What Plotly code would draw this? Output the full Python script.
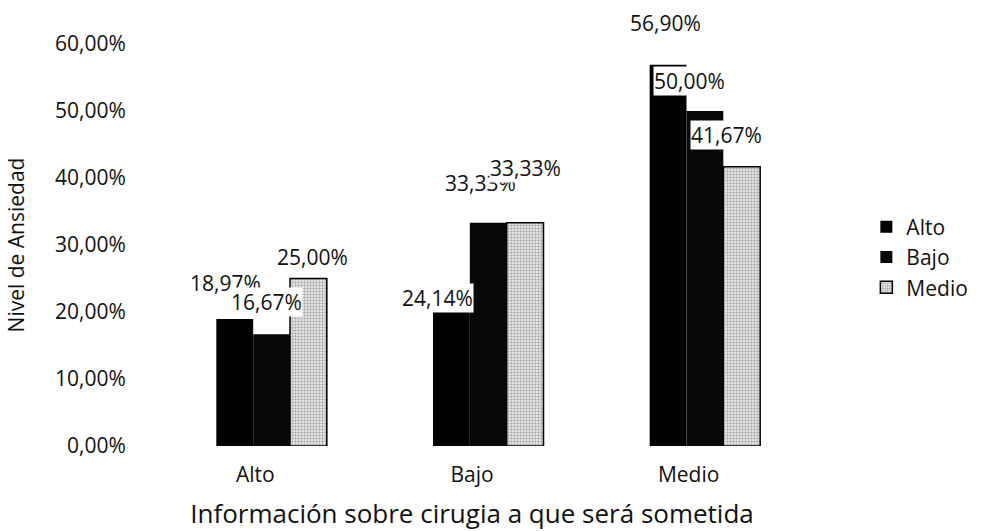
import plotly.graph_objects as go

# Information level about surgery (x categories) vs. anxiety level (series)
categorias = ["Alto", "Bajo", "Medio"]
serie_alto = [18.97, 24.14, 56.90]
serie_bajo = [16.67, 33.33, 50.00]
serie_medio = [25.00, 33.33, 41.67]
ticks_y = [0, 10, 20, 30, 40, 50, 60]
etiquetas_y = ["0,00%", "10,00%", "20,00%", "30,00%", "40,00%", "50,00%", "60,00%"]

FONT = "'Open Sans', Lato, sans-serif"
INK = "#111111"


def pct(v):
    return f"{v:.2f}".replace(".", ",") + "%"


# bar geometry in category units (three slim bars side by side)
BAR_W = 0.17
OFFSETS = [-0.18, -0.01, 0.16]

fig = go.Figure()
fig.add_trace(go.Bar(
    name="Alto", x=categorias, y=serie_alto, width=BAR_W, offset=OFFSETS[0],
    marker=dict(color="#000000", line=dict(width=0)),
))
fig.add_trace(go.Bar(
    name="Bajo", x=categorias, y=serie_bajo, width=BAR_W, offset=OFFSETS[1],
    marker=dict(color="#080808", line=dict(width=0)),
))
fig.add_trace(go.Bar(
    name="Medio", x=categorias, y=serie_medio, width=BAR_W, offset=OFFSETS[2],
    marker=dict(
        color="#ffffff",
        line=dict(color="#000000", width=1.5),
        pattern=dict(shape=".", fgcolor="#666666", bgcolor="#f2f2f2",
                     size=3, solidity=0.5),
    ),
))

# label nudges (px, relative to the top-centre of each bar): [series][category]
NUDGE_X = [[-9, -14, -3], [-5, -8, -15], [4, 0, -15]]
NUDGE_Y = [[36, -14, 42], [32, 40, 30], [22, 55, 32]]
PX_PER_CAT = 651 / 3

series = [serie_alto, serie_bajo, serie_medio]
for s_idx, vals in enumerate(series):
    centre = (OFFSETS[s_idx] + BAR_W / 2) * PX_PER_CAT
    for c_idx, v in enumerate(vals):
        fig.add_annotation(
            x=categorias[c_idx], y=v, xref="x", yref="y",
            text=pct(v), showarrow=False,
            xshift=centre + NUDGE_X[s_idx][c_idx],
            yshift=NUDGE_Y[s_idx][c_idx],
            yanchor="middle", xanchor="center",
            bgcolor="#ffffff", borderpad=0,
            font=dict(family=FONT, size=21, color=INK),
        )

fig.update_layout(
    width=984, height=531,
    paper_bgcolor="#ffffff", plot_bgcolor="#ffffff",
    margin=dict(l=147, r=186, t=44, b=85),
    barmode="overlay",
    font=dict(family=FONT, color=INK),
    showlegend=True,
    legend=dict(
        x=1.105, y=0.47, xanchor="left", yanchor="middle",
        font=dict(family=FONT, size=21, color=INK),
        itemwidth=30, tracegroupgap=6, bgcolor="rgba(0,0,0,0)",
    ),
    xaxis=dict(
        automargin=False,
        showgrid=False, zeroline=False, showline=False,
        ticks="outside", ticklen=10, tickcolor="rgba(0,0,0,0)",
        tickfont=dict(family=FONT, size=21, color=INK),
        title=dict(text="Información sobre cirugia a que será sometida",
                   font=dict(family=FONT, size=26, color=INK),
                   standoff=20),
    ),
    yaxis=dict(
        automargin=False,
        range=[0, 60], tickvals=ticks_y, ticktext=etiquetas_y,
        showgrid=False, zeroline=False, showline=False,
        ticks="outside", ticklen=16, tickcolor="rgba(0,0,0,0)",
        tickfont=dict(family=FONT, size=21, color=INK),
        title=dict(text="Nivel de Ansiedad",
                   font=dict(family=FONT, size=21, color=INK),
                   standoff=24),
    ),
)

fig.write_html("out.html")
